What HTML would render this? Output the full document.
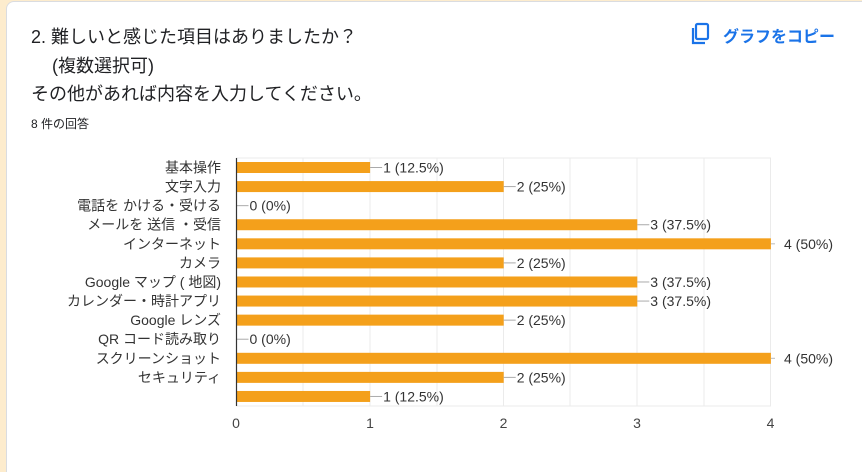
<!DOCTYPE html>
<html style="overflow:hidden;height:472px"><head><meta charset="utf-8"><style>
body{margin:0;width:862px;height:472px;background:#fdeccd;overflow:hidden;position:relative;font-family:"Liberation Sans","Noto Sans CJK JP",sans-serif;}
.card{position:absolute;left:6px;top:1px;width:870px;height:490px;background:#fff;border:1px solid #dadce0;border-radius:8px;}
.t{position:absolute;left:31px;font-size:18px;color:#202124;white-space:nowrap}
</style></head><body>
<div class="card"></div>
<div class="t" style="top:23px">2. 難しいと感じた項目はありましたか？</div>
<div class="t" style="top:52px;left:52px">(複数選択可)</div>
<div class="t" style="top:80px">その他があれば内容を入力してください。</div>
<div class="t" style="top:115px;font-size:12px">8 件の回答</div>
<svg style="position:absolute;left:690px;top:22px" width="22" height="24" viewBox="0 0 22 24"><rect x="6" y="2" width="12" height="15" rx="1.5" fill="none" stroke="#1a73e8" stroke-width="2.2"/><path d="M3 6 V21 H15" fill="none" stroke="#1a73e8" stroke-width="2.2"/></svg>
<div class="t" style="left:723px;top:23px;font-size:16px;color:#1a73e8;font-weight:bold">グラフをコピー</div>
<svg style="position:absolute;left:0;top:0" width="862" height="472" font-family="Liberation Sans, Noto Sans CJK JP, sans-serif" font-size="14" fill="#333">
<g stroke="#ebebeb" stroke-width="1">
<line x1="303" y1="158" x2="303" y2="406"/><line x1="370" y1="158" x2="370" y2="406"/><line x1="437" y1="158" x2="437" y2="406"/><line x1="503.5" y1="158" x2="503.5" y2="406"/><line x1="570" y1="158" x2="570" y2="406"/><line x1="637" y1="158" x2="637" y2="406"/><line x1="704" y1="158" x2="704" y2="406"/><line x1="770.5" y1="158" x2="770.5" y2="406"/>
<line x1="236" y1="406" x2="771" y2="406"/><line x1="236" y1="158" x2="771" y2="158"/>
</g>
<g id="bars"></g>
<line x1="236.5" y1="158" x2="236.5" y2="406" stroke="#333" stroke-width="1.2"/>
<g text-anchor="middle" fill="#444"><text x="236" y="428">0</text><text x="370" y="428">1</text><text x="503.5" y="428">2</text><text x="637" y="428">3</text><text x="770.5" y="428">4</text></g>
</svg>
<script>
var d=[["基本操作",1,"1 (12.5%)"],["文字入力",2,"2 (25%)"],["電話を かける・受ける",0,"0 (0%)"],["メールを 送信 ・受信",3,"3 (37.5%)"],["インターネット",4,"4 (50%)"],["カメラ",2,"2 (25%)"],["Google マップ ( 地図)",3,"3 (37.5%)"],["カレンダー・時計アプリ",3,"3 (37.5%)"],["Google レンズ",2,"2 (25%)"],["QR コード読み取り",0,"0 (0%)"],["スクリーンショット",4,"4 (50%)"],["セキュリティ",2,"2 (25%)"],["",1,"1 (12.5%)"]];
var s="";
d.forEach(function(r,i){var c=167.5+i*19.08,w=r[1]*133.6,x=236.5+w;
if(w>0)s+='<rect x="236.5" y="'+(c-5.5)+'" width="'+w+'" height="11" fill="#f4a01b"/>';
if(r[1]==4){s+='<line x1="771" y1="'+c+'" x2="775" y2="'+c+'" stroke="#bbb"/><text x="784" y="'+(c+5)+'">'+r[2]+'</text>';}
else{s+='<line x1="'+x+'" y1="'+c+'" x2="'+(x+12)+'" y2="'+c+'" stroke="#aaa"/><text x="'+(x+13)+'" y="'+(c+5)+'">'+r[2]+'</text>';}
s+='<text x="221" y="'+(c+5)+'" text-anchor="end">'+r[0]+'</text>';});
document.getElementById("bars").innerHTML=s;
</script>
</body></html>
